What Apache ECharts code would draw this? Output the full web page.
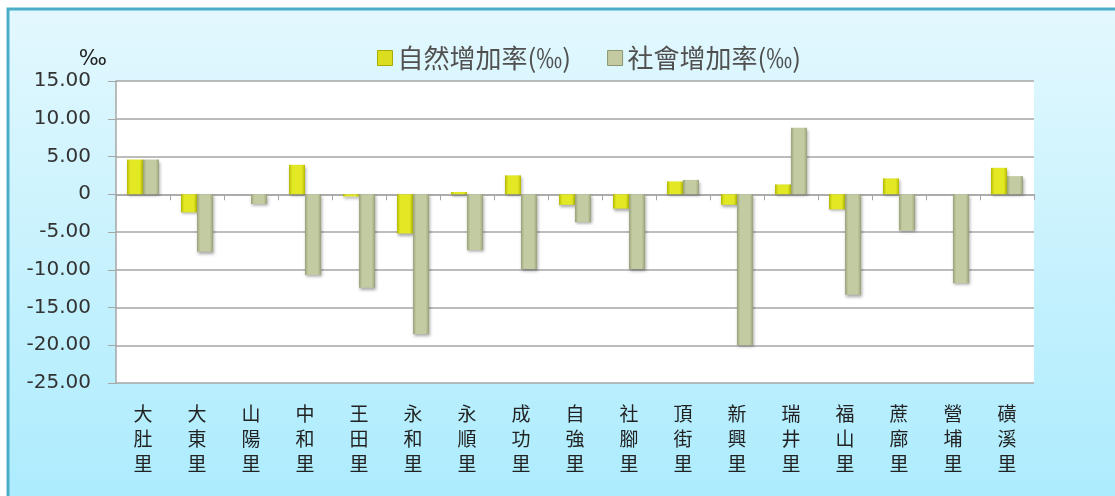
<!DOCTYPE html>
<html>
<head>
<meta charset="utf-8">
<script src="https://cdn.jsdelivr.net/npm/echarts@6/dist/echarts.min.js"></script>
<style>
html,body{margin:0;padding:0;background:#fff;}
#c{width:1115px;height:496px;}
</style>
</head>
<body>
<div id="c"></div>
<script>
var categories = ['大肚里','大東里','山陽里','中和里','王田里','永和里','永順里','成功里','自強里','社腳里','頂街里','新興里','瑞井里','福山里','蔗廍里','營埔里','磺溪里'];
var naturalRate = [4.6, -2.4, 0, 3.9, -0.3, -5.2, 0.3, 2.5, -1.4, -1.9, 1.7, -1.4, 1.3, -2.0, 2.1, 0, 3.5];
var socialRate = [4.6, -7.6, -1.3, -10.7, -12.4, -18.5, -7.4, -9.9, -3.7, -9.9, 1.9, -20.0, 8.8, -13.3, -4.8, -11.8, 2.4];
var seriesNames = ['自然增加率(‰)', '社會增加率(‰)'];
var yMin = -25, yMax = 15, yStep = 5;

var chart = echarts.init(document.getElementById('c'));

function hGrad(edge, mid) {
  return new echarts.graphic.LinearGradient(0, 0, 1, 0, [
    {offset: 0, color: edge},
    {offset: 0.2, color: mid},
    {offset: 0.8, color: mid},
    {offset: 1, color: edge}
  ]);
}

var barShadow = {
  shadowColor: 'rgba(0,0,0,0.35)',
  shadowBlur: 3,
  shadowOffsetX: 1,
  shadowOffsetY: 2
};

chart.setOption({
  animation: false,
  backgroundColor: '#ffffff',
  graphic: [{
    type: 'rect',
    z: -100,
    shape: {x: 8, y: 9, width: 1200, height: 600},
    style: {
      fill: new echarts.graphic.LinearGradient(0, 0, 0, 1, [
        {offset: 0, color: '#e3f8fe'},
        {offset: 1, color: '#a0e9fd'}
      ]),
      stroke: '#4aaec8',
      lineWidth: 3
    }
  }],
  legend: {
    left: 372,
    top: 40,
    icon: 'rect',
    itemWidth: 15,
    itemHeight: 15,
    itemGap: 36,
    textStyle: {fontSize: 26, color: '#505050', fontFamily: 'Noto Sans CJK TC'},
    data: [
      {name: seriesNames[0], itemStyle: {color: '#dade1e', borderColor: '#a8ac00', borderWidth: 1}},
      {name: seriesNames[1], itemStyle: {color: '#c3caa2', borderColor: '#8e9570', borderWidth: 1}}
    ]
  },
  grid: {
    left: 116, right: 81, top: 81, bottom: 113,
    show: true, backgroundColor: '#ffffff', borderWidth: 0
  },
  xAxis: [{
    type: 'category',
    data: categories,
    position: 'bottom',
    axisLine: {show: true, onZero: true, lineStyle: {color: '#a6a6a6', width: 1.5}},
    axisTick: {show: true, length: 6, lineStyle: {color: '#a6a6a6'}},
    axisLabel: {show: false}
  }, {
    type: 'category',
    data: categories,
    position: 'bottom',
    axisLine: {show: false, onZero: false},
    axisTick: {show: false},
    axisLabel: {
      show: true,
      margin: 18,
      interval: 0,
      fontSize: 19,
      lineHeight: 25,
      color: '#222',
      fontFamily: 'Noto Sans CJK TC',
      formatter: function (v) { return v.split('').join('\n'); }
    }
  }],
  yAxis: {
    type: 'value',
    min: yMin, max: yMax, interval: yStep,
    name: '‰',
    nameLocation: 'end',
    nameGap: 11,
    nameTextStyle: {fontSize: 21, color: '#222', fontFamily: 'DejaVu Sans', align: 'right', padding: [0, 9, 0, 0]},
    axisLine: {show: true, lineStyle: {color: '#a6a6a6', width: 1.5}},
    axisTick: {show: true, length: 8, lineStyle: {color: '#a6a6a6'}},
    splitLine: {show: true, lineStyle: {color: '#a6a6a6', width: 1.5}},
    axisLabel: {
      margin: 25,
      fontSize: 20,
      color: '#333',
      fontFamily: 'DejaVu Sans',
      formatter: function (v) { return v === 0 ? '0' : v.toFixed(2); }
    }
  },
  series: [{
    name: seriesNames[0],
    type: 'bar',
    xAxisIndex: 0,
    data: naturalRate,
    barWidth: 16,
    barGap: '0%',
    itemStyle: Object.assign({color: hGrad('#b4b800', '#e2e824')}, barShadow)
  }, {
    name: seriesNames[1],
    type: 'bar',
    xAxisIndex: 0,
    data: socialRate,
    barWidth: 16,
    barGap: '0%',
    itemStyle: Object.assign({color: hGrad('#99a178', '#c3cba3')}, barShadow)
  }]
});
</script>
</body>
</html>
